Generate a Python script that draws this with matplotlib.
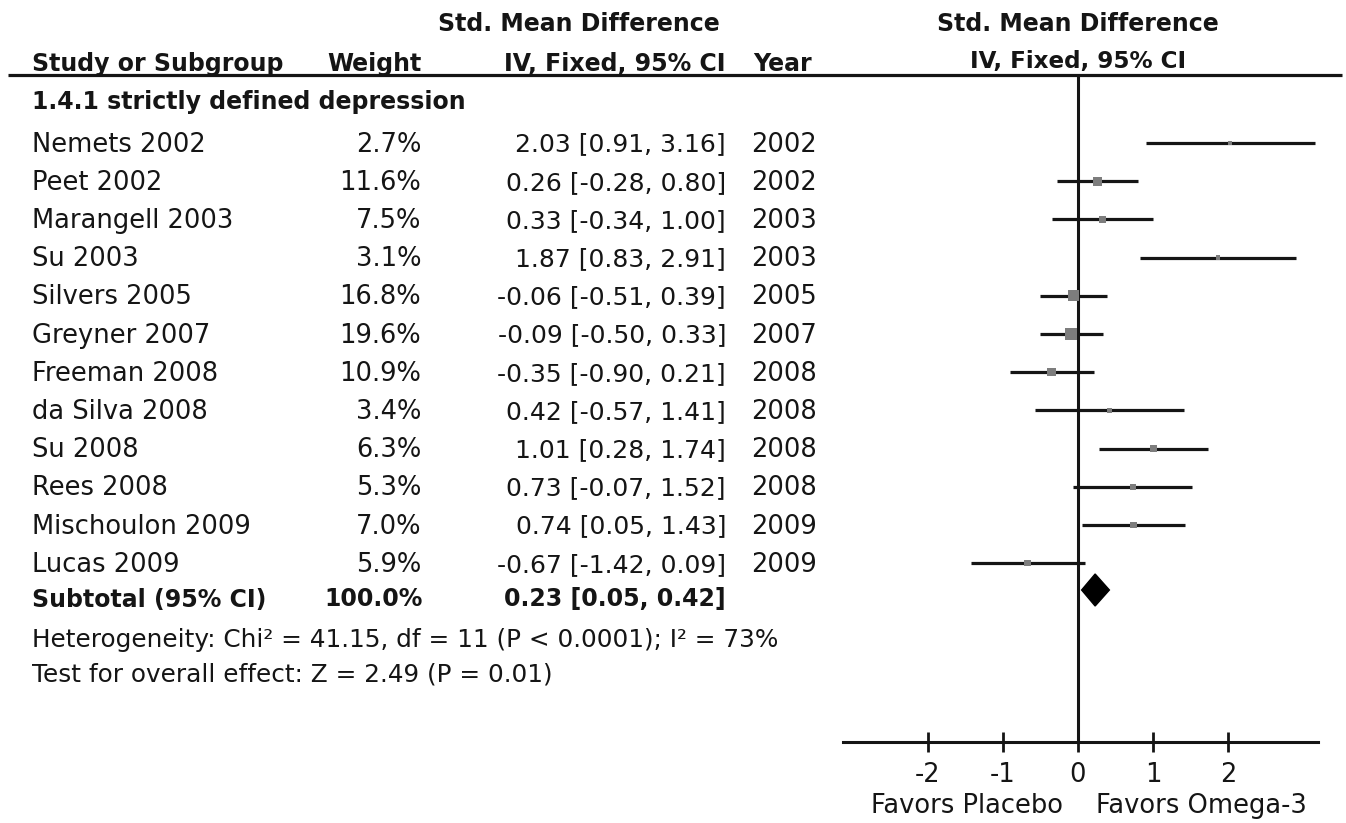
import matplotlib
matplotlib.use("Agg")
import matplotlib.pyplot as plt
import numpy as np

# --- Data ---
studies = ["Nemets 2002", "Peet 2002", "Marangell 2003", "Su 2003", "Silvers 2005",
           "Greyner 2007", "Freeman 2008", "da Silva 2008", "Su 2008", "Rees 2008",
           "Mischoulon 2009", "Lucas 2009"]
weights = [2.7, 11.6, 7.5, 3.1, 16.8, 19.6, 10.9, 3.4, 6.3, 5.3, 7.0, 5.9]
smd = [2.03, 0.26, 0.33, 1.87, -0.06, -0.09, -0.35, 0.42, 1.01, 0.73, 0.74, -0.67]
ci_lo = [0.91, -0.28, -0.34, 0.83, -0.51, -0.50, -0.90, -0.57, 0.28, -0.07, 0.05, -1.42]
ci_hi = [3.16, 0.80, 1.00, 2.91, 0.39, 0.33, 0.21, 1.41, 1.74, 1.52, 1.43, 0.09]
years = [2002, 2002, 2003, 2003, 2005, 2007, 2008, 2008, 2008, 2008, 2009, 2009]

sub_weight = 100.0
sub_smd, sub_lo, sub_hi = 0.23, 0.05, 0.42

group_label = "1.4.1 strictly defined depression"
het_text = "Heterogeneity: Chi\u00b2 = 41.15, df = 11 (P < 0.0001); I\u00b2 = 73%"
test_text = "Test for overall effect: Z = 2.49 (P = 0.01)"
xticks = [-2, -1, 0, 1, 2]

# --- Layout (pixels) ---
W, H = 1346, 823
FS = 18.5      # study rows
CFS = 18       # CI column
NFS = 17.8     # footnotes
HFS = 17       # bold headers / subtotal
INK = "#151515"
plt.rcParams["font.family"] = "DejaVu Sans"

fig = plt.figure(figsize=(W / 100, H / 100), dpi=100)
ax = fig.add_axes([0, 0, 1, 1])
ax.set_xlim(0, W)
ax.set_ylim(H, 0)
ax.axis("off")

row_y = 143 + 38.2 * np.arange(len(studies))
sub_y = 598
base = 8.5  # center -> baseline offset
LX = 32

# header
ax.text(579, 22 + base, "Std. Mean Difference", ha="center", va="baseline",
        fontsize=HFS, fontweight="bold", color=INK)
ax.text(LX, 62 + base, "Study or Subgroup", ha="left", va="baseline",
        fontsize=HFS, fontweight="bold", color=INK)
ax.text(422, 62 + base, "Weight", ha="right", va="baseline",
        fontsize=HFS, fontweight="bold", color=INK)
ax.text(725, 62 + base, "IV, Fixed, 95% CI", ha="right", va="baseline",
        fontsize=HFS, fontweight="bold", color=INK)
ax.text(753, 62 + base, "Year", ha="left", va="baseline",
        fontsize=HFS, fontweight="bold", color=INK)
ax.text(1078, 22 + base, "Std. Mean Difference", ha="center", va="baseline",
        fontsize=HFS, fontweight="bold", color=INK)
ax.text(1078, 59 + base, "IV, Fixed, 95% CI", ha="center", va="baseline",
        fontsize=16.6, fontweight="bold", color=INK)
ax.plot([8, 1342], [75, 75], color=INK, lw=2.3, solid_capstyle="butt")

ax.text(LX, 100 + base, group_label, ha="left", va="baseline",
        fontsize=HFS, fontweight="bold", color=INK)

# study rows
for i, name in enumerate(studies):
    y = row_y[i] + base
    ax.text(LX, y, name, ha="left", va="baseline", fontsize=FS, color=INK)
    ax.text(421, y, f"{weights[i]:.1f}%", ha="right", va="baseline", fontsize=FS, color=INK)
    ax.text(726, y, f"{smd[i]:.2f} [{ci_lo[i]:.2f}, {ci_hi[i]:.2f}]",
            ha="right", va="baseline", fontsize=CFS, color=INK)
    ax.text(817, y, str(years[i]), ha="right", va="baseline", fontsize=FS, color=INK)

# subtotal
ax.text(LX, sub_y + base, "Subtotal (95% CI)", ha="left", va="baseline",
        fontsize=HFS, fontweight="bold", color=INK)
ax.text(423, sub_y + base, f"{sub_weight:.1f}%", ha="right", va="baseline",
        fontsize=HFS, fontweight="bold", color=INK)
ax.text(726, sub_y + base, f"{sub_smd:.2f} [{sub_lo:.2f}, {sub_hi:.2f}]",
        ha="right", va="baseline", fontsize=HFS, fontweight="bold", color=INK)

ax.text(LX, 639 + base, het_text, ha="left", va="baseline", fontsize=NFS, color=INK)
ax.text(LX, 673 + base, test_text, ha="left", va="baseline", fontsize=NFS, color=INK)

# --- Forest plot ---
x0, x1, ytop, ybot = 843, 1318, 75, 742
fx = fig.add_axes([x0 / W, 1 - ybot / H, (x1 - x0) / W, (ybot - ytop) / H])
fx.set_xlim(-3.13, 3.2)
fx.set_ylim(ybot, ytop)
fx.patch.set_alpha(0)
for s in ["left", "right", "top"]:
    fx.spines[s].set_visible(False)
fx.spines["bottom"].set_linewidth(2.2)
fx.spines["bottom"].set_color(INK)
fx.set_yticks([])
fx.set_xticks(xticks)
fx.set_xticklabels([str(t) for t in xticks])
fx.tick_params(axis="x", direction="inout", length=15, width=2, color=INK,
               labelsize=FS, labelcolor=INK, pad=7)

fx.axvline(0, color=INK, lw=2.2, zorder=1)
fx.hlines(row_y, ci_lo, ci_hi, color=INK, lw=2.3, zorder=2)
side_px = 11.5 * np.sqrt(np.array(weights) / max(weights))
fx.scatter(smd, row_y, marker="s", s=(side_px * 0.72) ** 2, color="#7d7d7d",
           linewidths=0, zorder=3)

dy = 16
yd = sub_y - 8
fx.fill([sub_lo, sub_smd, sub_hi, sub_smd], [yd, yd - dy, yd, yd + dy],
        color="black", zorder=3)

ax.text(967, 806, "Favors Placebo", ha="center", va="center", fontsize=FS, color=INK)
ax.text(1201, 806, "Favors Omega-3", ha="center", va="center", fontsize=FS, color=INK)

fig.savefig("out.png", dpi=100)
